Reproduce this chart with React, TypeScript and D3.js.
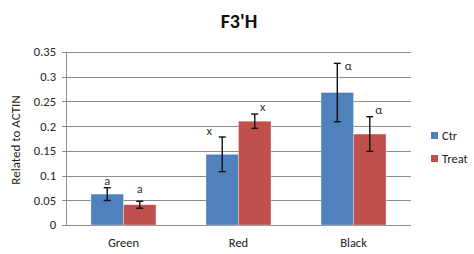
import React, { useEffect, useRef } from "react";
import * as d3 from "d3";

const categories = ["Green", "Red", "Black"];
const series = ["Ctr", "Treat"];
const ctrValues = [0.0625, 0.143, 0.268];
const treatValues = [0.041, 0.21, 0.184];
const ctrErrors = [0.013, 0.035, 0.059];
const treatErrors = [0.007, 0.0145, 0.035];
const ctrLetters = ["a", "x", "α"];
const treatLetters = ["a", "x", "α"];
const yTicks = [0, 0.05, 0.1, 0.15, 0.2, 0.25, 0.3, 0.35];

const colors = ["#4F81BD", "#C0504D"];
const font = "Carlito, Calibri, 'Open Sans', sans-serif";
const fs = 12.5;

const App = () => {
  const ref = useRef<SVGSVGElement>(null);

  useEffect(() => {
    const width = 474;
    const height = 254;
    const margin = { top: 52, right: 63, bottom: 29, left: 66 };
    const svg = d3.select(ref.current);
    svg.selectAll("*").remove();

    const x = d3
      .scaleBand()
      .domain(categories)
      .range([margin.left, width - margin.right])
      .paddingInner(0.435)
      .paddingOuter(0.217);
    const xs = d3.scaleBand().domain(series).range([0, x.bandwidth()]);
    const y = d3
      .scaleLinear()
      .domain([0, 0.35])
      .range([height - margin.bottom, margin.top]);

    // grid + ticks
    const g = svg.append("g");
    g.selectAll("line.grid")
      .data(yTicks)
      .join("line")
      .attr("x1", margin.left - 4)
      .attr("x2", width - margin.right)
      .attr("y1", (d) => Math.round(y(d)) + 0.5)
      .attr("y2", (d) => Math.round(y(d)) + 0.5)
      .attr("stroke", "#8c8c8c")
      .attr("stroke-width", 1);
    g.append("line")
      .attr("x1", margin.left + 0.5)
      .attr("x2", margin.left + 0.5)
      .attr("y1", y(0.35))
      .attr("y2", y(0))
      .attr("stroke", "#8c8c8c");
    g.selectAll("text.tick")
      .data(yTicks)
      .join("text")
      .attr("x", margin.left - 10)
      .attr("y", (d) => y(d))
      .attr("dy", "0.35em")
      .attr("text-anchor", "end")
      .attr("font-family", font)
      .attr("font-size", fs)
      .attr("fill", "#222")
      .text((d) => (d === 0 ? "0" : String(d)));

    const rows = [
      { vals: ctrValues, errs: ctrErrors, letters: ctrLetters, dx: [0, -13, 11], dy: [-3, -2, 7] },
      { vals: treatValues, errs: treatErrors, letters: treatLetters, dx: [0, 8, 9], dy: [-8, -3, -3] },
    ];

    rows.forEach((row, si) => {
      const bx = (i: number) => (x(categories[i]) ?? 0) + (xs(series[si]) ?? 0);
      const cx = (i: number) => bx(i) + xs.bandwidth() / 2;
      svg
        .append("g")
        .selectAll("rect")
        .data(row.vals)
        .join("rect")
        .attr("x", (_, i) => bx(i))
        .attr("y", (d) => y(d))
        .attr("width", xs.bandwidth())
        .attr("height", (d) => y(0) - y(d))
        .attr("fill", colors[si])
        .attr("stroke", "rgba(255,255,255,0.5)")
        .attr("stroke-width", 0.6);

      const eb = svg.append("g").attr("stroke", "#111").attr("stroke-width", 1.4);
      row.vals.forEach((v, i) => {
        const e = row.errs[i];
        const c = cx(i);
        eb.append("line").attr("x1", c).attr("x2", c).attr("y1", y(v + e)).attr("y2", y(v - e));
        eb.append("line").attr("x1", c - 3.5).attr("x2", c + 3.5).attr("y1", y(v + e)).attr("y2", y(v + e));
        eb.append("line").attr("x1", c - 3.5).attr("x2", c + 3.5).attr("y1", y(v - e)).attr("y2", y(v - e));
        svg
          .append("text")
          .attr("x", c + row.dx[i])
          .attr("y", y(v + e) + row.dy[i])
          .attr("text-anchor", "middle")
          .attr("font-family", font)
          .attr("font-size", fs)
          .attr("fill", "#333")
          .text(row.letters[i]);
      });
    });

    // x labels
    svg
      .selectAll("text.xl")
      .data(categories)
      .join("text")
      .attr("x", (d) => (x(d) ?? 0) + x.bandwidth() / 2)
      .attr("y", height - 7)
      .attr("text-anchor", "middle")
      .attr("font-family", font)
      .attr("font-size", fs)
      .attr("fill", "#222")
      .text((d) => d);

    // y title
    svg
      .append("text")
      .attr("transform", `translate(20,140) rotate(-90)`)
      .attr("text-anchor", "middle")
      .attr("font-family", font)
      .attr("font-size", 13)
      .attr("fill", "#222")
      .text("Related to ACTIN");

    // title
    svg
      .append("text")
      .attr("x", 239)
      .attr("y", 28)
      .attr("text-anchor", "middle")
      .attr("font-family", font)
      .attr("font-size", 20)
      .attr("font-weight", "bold")
      .attr("fill", "#111")
      .text("F3'H");

    // legend
    const lg = svg.append("g").attr("transform", "translate(431,132)");
    series.forEach((s, i) => {
      lg.append("rect").attr("x", 0).attr("y", i * 23).attr("width", 7).attr("height", 7).attr("fill", colors[i]);
      lg.append("text")
        .attr("x", 11)
        .attr("y", i * 23 + 4)
        .attr("dy", "0.35em")
        .attr("font-family", font)
        .attr("font-size", fs)
        .attr("fill", "#222")
        .text(s);
    });
  }, []);

  return (
    <svg
      ref={ref}
      width={474}
      height={254}
      style={{ position: "absolute", left: 0, top: 0, background: "#fff" }}
    />
  );
};

export default App;
